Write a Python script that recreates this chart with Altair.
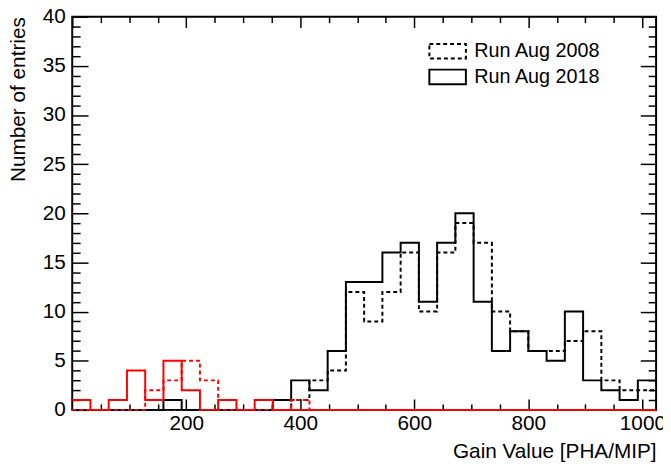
import altair as alt
import pandas as pd

# Histogram: 32 bins of width 32 over [0, 1024]
bin_width = 32
n_bins = 32

aug2018_black = [0, 0, 0, 0, 0, 1, 0, 0, 0, 0, 0, 1, 3, 2, 6, 13,
                 13, 16, 17, 11, 17, 20, 11, 6, 8, 6, 5, 10, 3, 2, 1, 3]
aug2008_black = [0, 0, 0, 0, 0, 0, 0, 0, 0, 0, 0, 0, 1, 3, 4, 12,
                 9, 12, 16, 10, 16, 19, 17, 10, 8, 6, 6, 7, 8, 3, 2, 2]
aug2018_red = [1, 0, 1, 4, 1, 5, 2, 0, 1, 0, 1, 0, 0, 0, 0, 0,
               0, 0, 0, 0, 0, 0, 0, 0, 0, 0, 0, 0, 0, 0, 0, 0]
aug2008_red = [0, 0, 0, 0, 2, 3, 5, 3, 0, 0, 0, 0, 1, 0, 0, 0,
               0, 0, 0, 0, 0, 0, 0, 0, 0, 0, 0, 0, 0, 0, 0, 0]

runs = ["Run Aug 2008", "Run Aug 2018"]
x_major = [200, 400, 600, 800, 1000]
x_minor = [v for v in range(50, 1001, 50) if v % 200 != 0]
y_major = list(range(0, 41, 5))
y_minor = [v for v in range(1, 40) if v % 5 != 0]

rows = []
def add(values, run, col, key):
    vals = values + [values[-1]]
    for i, v in enumerate(vals):
        rows.append(dict(x=i * bin_width, y=v, run=run, col=col, key=key))

add(aug2008_black, runs[0], "black", "a")
add(aug2018_black, runs[1], "black", "b")
add(aug2008_red, runs[0], "red", "c")
add(aug2018_red, runs[1], "red", "d")
df = pd.DataFrame(rows)

FONT = "Liberation Sans"
xs = alt.Scale(domain=[0, n_bins * bin_width], nice=False, zero=False)
ys = alt.Scale(domain=[0, 40], nice=False)

lines = alt.Chart(df).mark_line(interpolate="step-after", strokeWidth=2).encode(
    x=alt.X("x:Q", scale=xs, axis=alt.Axis(
        orient="bottom", values=x_major, format="d", tickSize=11, offset=-11, domain=False,
        grid=False, labelFontSize=21, labelPadding=3, labelFlush=False,
        title="Gain Value [PHA/MIP]", titleAnchor="end", titleFontSize=21,
        titleFontWeight="normal", titleY=59, titleBaseline="alphabetic")),
    y=alt.Y("y:Q", scale=ys, axis=alt.Axis(
        orient="left", values=y_major, format="d", tickSize=16, offset=-16, domain=False,
        grid=False, labelFontSize=21, labelPadding=7,
        title="Number of entries", titleFontSize=21, titleFontWeight="normal",
        titleX=-70, titleY=0, titleAngle=-90, titleAlign="right",
        titleBaseline="middle")),
    color=alt.Color("col:N", scale=alt.Scale(domain=["black", "red"],
                    range=["#000000", "#ff0000"]), legend=None),
    strokeDash=alt.StrokeDash("run:N", scale=alt.Scale(domain=runs, range=[[4, 3], [1, 0]]),
        legend=alt.Legend(orient="none", legendX=367, legendY=22, title=None,
                          symbolType="M-1.6,-0.64H1.6V0.64H-1.6Z", symbolSize=534,
                          symbolStrokeWidth=2, symbolStrokeColor="black",
                          symbolFillColor="white", labelFontSize=20, labelOffset=14,
                          labelFont=FONT, labelColor="black", rowPadding=1)),
    detail="key:N",
)

def ghost(xaxis, yaxis):
    return alt.Chart(df).mark_line(opacity=0).encode(
        x=alt.X("x:Q", scale=xs, axis=xaxis),
        y=alt.Y("y:Q", scale=ys, axis=yaxis),
        detail="key:N",
    )

g1 = ghost(
    alt.Axis(orient="bottom", values=x_minor, tickSize=6, offset=-6, labels=False,
             domain=False, grid=False, title=None),
    alt.Axis(orient="left", values=y_minor, tickSize=8, offset=-8, labels=False,
             domain=False, grid=False, title=None),
)
g2 = ghost(
    alt.Axis(orient="top", values=[0] + x_major, tickSize=11, offset=-11, labels=False,
             domain=False, grid=False, title=None),
    alt.Axis(orient="right", values=y_major, tickSize=16, offset=-16, labels=False,
             domain=False, grid=False, title=None),
)
g3 = ghost(
    alt.Axis(orient="top", values=x_minor, tickSize=6, offset=-6, labels=False,
             domain=False, grid=False, title=None),
    alt.Axis(orient="right", values=y_minor, tickSize=8, offset=-8, labels=False,
             domain=False, grid=False, title=None),
)

chart = alt.layer(lines, g1, g2, g3).resolve_axis(
    x="independent", y="independent"
).properties(
    width=591, height=398, autosize="none",
    padding={"left": 65, "top": 6, "right": 7, "bottom": 52},
    background="white",
).configure_axis(
    labelFont=FONT, titleFont=FONT, labelColor="black", titleColor="black",
    tickColor="black", tickWidth=1.5,
).configure_view(stroke="black", strokeWidth=2)

chart.save("out.html", embed_options={"renderer": "svg", "actions": False})
